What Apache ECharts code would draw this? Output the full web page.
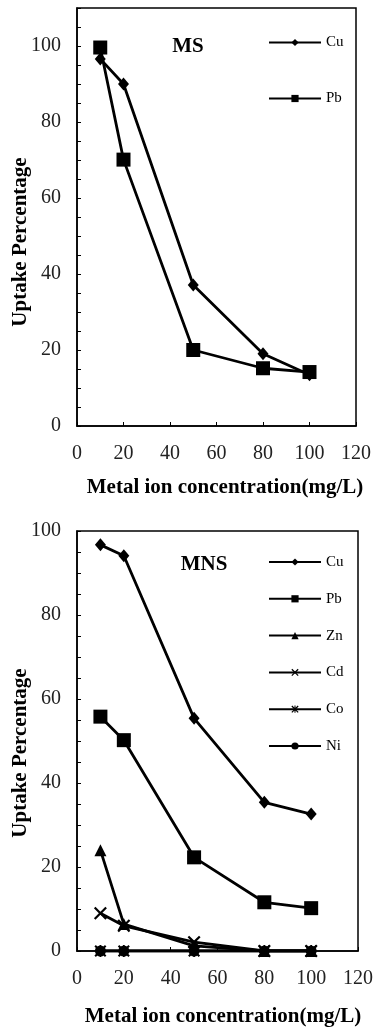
<!DOCTYPE html>
<html>
<head>
<meta charset="utf-8">
<script src="https://cdn.jsdelivr.net/npm/echarts@6/dist/echarts.min.js"></script>
<style>
html,body{margin:0;padding:0;background:#fff;}
#c{width:374px;height:1027px;}
</style>
</head>
<body>
<div id="c"></div>
<script>
// ---- data ----
const concentrations = [10, 20, 50, 80, 100];
const msCu = [96.6, 90.0, 37.1, 19.0, 13.5];
const msPb = [99.6, 70.1, 20.0, 15.2, 14.2];
const mnsCu = [96.7, 94.1, 55.4, 35.4, 32.6];
const mnsPb = [55.8, 50.2, 22.3, 11.6, 10.2];
const mnsZn = [24.0, 6.4, 1.2, 0, 0];
const mnsCd = [9.0, 6.0, 2.1, 0, 0];
const mnsCo = [0, 0, 0, 0, 0];
const mnsNi = [0, 0, 0, 0, 0];
const xTicks = [0, 20, 40, 60, 80, 100, 120];
const msLegend = ['Cu', 'Pb'];
const mnsLegend = ['Cu', 'Pb', 'Zn', 'Cd', 'Co', 'Ni'];

const FONT = '"Liberation Serif", "Times New Roman", serif';
const CROSS = 'path://M0,1.2L1.2,0L5,3.8L8.8,0L10,1.2L6.2,5L10,8.8L8.8,10L5,6.2L1.2,10L0,8.8L3.8,5Z';
const STAR = 'path://M0,1.2L1.2,0L5,3.8L8.8,0L10,1.2L6.2,5L10,8.8L8.8,10L5,6.2L1.2,10L0,8.8L3.8,5Z M4.3,0L5.7,0L5.7,10L4.3,10Z';

function pairs(ys) { return concentrations.map((x, i) => [x, ys[i]]); }

function mkX(idx) {
  return {
    type: 'value', gridIndex: idx, min: xTicks[0], max: xTicks[xTicks.length - 1], interval: xTicks[1] - xTicks[0],
    name: 'Metal ion concentration(mg/L)', nameLocation: 'middle', nameGap: idx === 0 ? 51 : 55, nameMoveOverlap: false,
    nameTextStyle: { fontFamily: FONT, fontWeight: 'bold', fontSize: 21, color: '#000', padding: idx === 0 ? [0,0,0,17] : [0,0,0,11] },
    axisLine: { show: true, lineStyle: { color: '#000', width: 1.5 } },
    axisTick: { show: true, inside: true, length: 4, lineStyle: { color: '#000', width: 1 } },
    axisLabel: { fontFamily: FONT, fontSize: 20, color: '#222', margin: 18 },
    splitLine: { show: false }
  };
}
function mkY(idx, max) {
  return {
    type: 'value', gridIndex: idx, min: 0, max: max, interval: 5,
    name: 'Uptake Percentage', nameLocation: 'middle', nameGap: 46, nameMoveOverlap: false,
    nameTextStyle: { fontFamily: FONT, fontWeight: 'bold', fontSize: 21, color: '#000', padding: idx === 0 ? [0,50,0,0] : [0,24,0,0] },
    axisLine: { show: true, lineStyle: { color: '#000', width: 1.5 } },
    axisTick: { show: true, inside: true, length: 4, lineStyle: { color: '#000', width: 1 } },
    axisLabel: { fontFamily: FONT, fontSize: 20, color: '#222', margin: 16,
      formatter: v => (v % 20 === 0 && v <= 100) ? String(v) : '' },
    splitLine: { show: false }
  };
}
function mkSeries(name, ys, idx, symbol, size) {
  return {
    type: 'line', name: name, data: pairs(ys), xAxisIndex: idx, yAxisIndex: idx,
    symbol: symbol, symbolSize: size, showSymbol: true,
    lineStyle: { color: '#000', width: 2.8 },
    itemStyle: { color: '#000', borderColor: '#000', borderWidth: 0 },
    emphasis: { disabled: true }
  };
}

const chart = echarts.init(document.getElementById('c'), null, { renderer: 'canvas' });
chart.setOption({
  animation: false,
  backgroundColor: '#fff',
  grid: [
    { left: 77, top: 8, width: 279, height: 418, containLabel: false, outerBoundsMode: 'none', show: true, borderColor: '#000', borderWidth: 1.5, backgroundColor: 'transparent' },
    { left: 77, top: 531, width: 281, height: 420, containLabel: false, outerBoundsMode: 'none', show: true, borderColor: '#000', borderWidth: 1.5, backgroundColor: 'transparent' }
  ],
  xAxis: [mkX(0), mkX(1)],
  yAxis: [mkY(0, 110), mkY(1, 100)],
  legend: [
    { data: msLegend, orient: 'vertical', left: 263, top: 30, itemWidth: 52, itemHeight: 9, itemGap: 41,
      textStyle: { fontFamily: FONT, fontSize: 15, color: '#000' }, selectedMode: false },
    { data: mnsLegend, orient: 'vertical', left: 263, top: 549.5, itemWidth: 52, itemHeight: 9, itemGap: 21.8,
      textStyle: { fontFamily: FONT, fontSize: 15, color: '#000' }, selectedMode: false }
  ],
  graphic: [
    { type: 'text', x: 188, y: 47, style: { text: 'MS', fontFamily: FONT, fontWeight: 'bold', fontSize: 21, fill: '#000', align: 'center', verticalAlign: 'middle' } },
    { type: 'text', x: 204, y: 565, style: { text: 'MNS', fontFamily: FONT, fontWeight: 'bold', fontSize: 21, fill: '#000', align: 'center', verticalAlign: 'middle' } }
  ],
  series: [
    mkSeries('Cu', msCu, 0, 'diamond', [11, 13]),
    mkSeries('Pb', msPb, 0, 'rect', 14),
    mkSeries('Cu', mnsCu, 1, 'diamond', [11, 13]),
    mkSeries('Pb', mnsPb, 1, 'rect', 14),
    mkSeries('Zn', mnsZn, 1, 'triangle', 12),
    mkSeries('Cd', mnsCd, 1, CROSS, 13),
    mkSeries('Co', mnsCo, 1, STAR, 12),
    mkSeries('Ni', mnsNi, 1, 'circle', 11)
  ]
});
</script>
</body>
</html>
